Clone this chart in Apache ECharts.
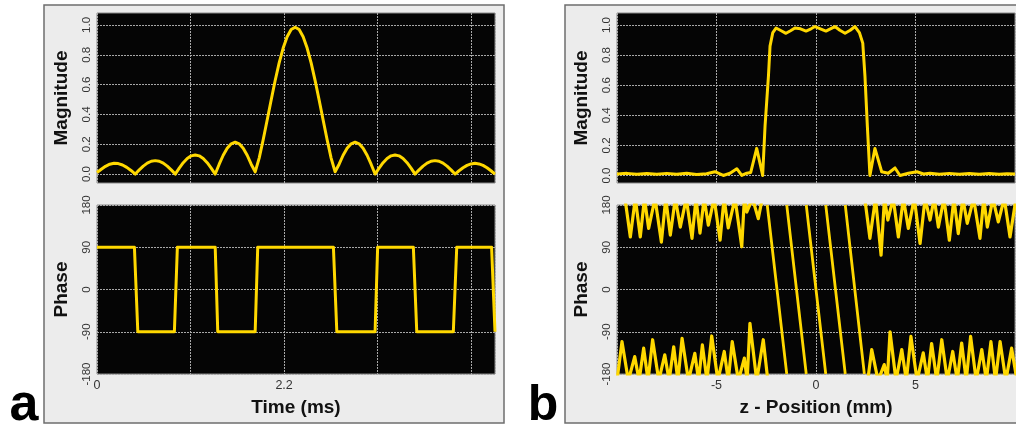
<!DOCTYPE html>
<html>
<head>
<meta charset="utf-8">
<script src="https://cdn.jsdelivr.net/npm/echarts@6/dist/echarts.min.js"></script>
<style>
html, body { margin: 0; padding: 0; background: #fff; }
#chart { width: 1016px; height: 428px; }
</style>
</head>
<body>
<div id="chart"></div>
<script>
// ---- panel a: RF pulse in time ----
const aTime = [
  0, 0.05, 0.10, 0.15, 0.20, 0.25, 0.30, 0.35, 0.40, 0.45,
  0.497, 0.544, 0.591, 0.638, 0.685, 0.732, 0.779, 0.826, 0.873, 0.92,
  0.967, 1.014, 1.061, 1.108, 1.155, 1.202, 1.249, 1.296, 1.343, 1.39,
  1.437, 1.484, 1.531, 1.578, 1.625, 1.672, 1.719, 1.766, 1.813, 1.86,
  1.907, 1.954, 2.001, 2.048, 2.095, 2.142, 2.189, 2.236, 2.283, 2.33,
  2.377, 2.424, 2.471, 2.518, 2.565, 2.612, 2.659, 2.706, 2.753, 2.80,
  2.847, 2.894, 2.941, 2.988, 3.035, 3.082, 3.129, 3.176, 3.223, 3.27,
  3.317, 3.364, 3.411, 3.458, 3.505, 3.552, 3.599, 3.646, 3.693, 3.74,
  3.787, 3.834, 3.881, 3.928, 3.975, 4.022, 4.069, 4.116, 4.163, 4.21,
  4.257, 4.304, 4.351, 4.398, 4.445, 4.492, 4.539, 4.586, 4.633, 4.68
];
const aMag = [
  0.010, 0.032, 0.052, 0.066, 0.072, 0.070, 0.061, 0.045, 0.024, 0.0,
  0.028, 0.053, 0.073, 0.086, 0.090, 0.086, 0.073, 0.053, 0.028, 0.0,
  0.040, 0.076, 0.104, 0.122, 0.128, 0.122, 0.104, 0.076, 0.040, 0.0,
  0.066, 0.126, 0.173, 0.203, 0.214, 0.203, 0.173, 0.126, 0.066, 0.015,
  0.107, 0.230, 0.362, 0.497, 0.627, 0.746, 0.845, 0.921, 0.969, 0.985,
  0.969, 0.921, 0.845, 0.746, 0.627, 0.497, 0.362, 0.230, 0.107, 0.015,
  0.066, 0.126, 0.173, 0.203, 0.214, 0.203, 0.173, 0.126, 0.066, 0.0,
  0.040, 0.076, 0.104, 0.122, 0.128, 0.122, 0.104, 0.076, 0.040, 0.0,
  0.028, 0.053, 0.073, 0.086, 0.090, 0.086, 0.073, 0.053, 0.028, 0.0,
  0.022, 0.042, 0.058, 0.068, 0.072, 0.068, 0.058, 0.042, 0.022, 0.0
];
const aPhaseTime = [0, 0.44, 0.48, 0.91, 0.945, 1.39, 1.42, 1.86, 1.89, 2.78, 2.82, 3.27, 3.30, 3.72, 3.76, 4.19, 4.23, 4.64, 4.68];
const aPhase = [90, 90, -90, -90, 90, 90, -90, -90, 90, 90, -90, -90, 90, 90, -90, -90, 90, 90, -90];
const aTickLabels = ['0', '2.2'];

// ---- panel b: slice profile ----
const bPos = [
  -10, -9.5, -9, -8.5, -8, -7.5, -7, -6.5, -6, -5.5,
  -5.08, -4.66, -4.32, -3.98, -3.73, -3.48, -3.28, -2.98, -2.68, -2.56,
  -2.39, -2.31, -2.17, -2.01, -1.75, -1.51, -1.28, -1.06, -0.78, -0.5,
  -0.25, -0.05, 0.22, 0.5, 0.72, 0.95, 1.2, 1.46, 1.72, 1.96,
  2.18, 2.35, 2.46, 2.58, 2.71, 2.96, 3.3, 3.63, 3.97, 4.22,
  4.64, 5.07, 5.4, 5.73, 6.2, 6.7, 7.2, 7.7, 8.2, 8.7,
  9.2, 9.6, 10
];
const bMag = [
  0.01, 0.014, 0.008, 0.013, 0.008, 0.014, 0.008, 0.015, 0.007, 0.012,
  0.025, 0.0, 0.015, 0.045, 0.0, 0.015, 0.02, 0.18, 0.0, 0.33,
  0.66, 0.86, 0.95, 0.98, 0.962, 0.945, 0.962, 0.98, 0.975, 0.96,
  0.975, 0.99, 0.975, 0.96, 0.975, 0.99, 0.965, 0.945, 0.965, 0.99,
  0.95, 0.88, 0.66, 0.33, 0.0, 0.18, 0.025, 0.015, 0.05, 0.0,
  0.015, 0.025, 0.01, 0.015, 0.008, 0.014, 0.008, 0.013, 0.008, 0.013,
  0.008, 0.012, 0.01
];
// phase noise hanging from +180 (values above 180 are clipped away)
const bTopPos = [
  -9.6, -9.33, -9.08, -8.83, -8.62, -8.41, -8.09, -7.77, -7.55, -7.32,
  -7.07, -6.82, -6.52, -6.23, -6.03, -5.83, -5.62, -5.41, -5.12, -4.82,
  -4.62, -4.41, -4.07, -3.73, -3.6, -3.48, -3.19, -2.9, -2.7,
  0,
  2.45, 2.71, 2.99, 3.27, 3.44, 3.61, 3.88, 4.14, 4.39, 4.64,
  4.94, 5.23, 5.48, 5.73, 5.94, 6.15, 6.43, 6.7, 6.93, 7.15,
  7.38, 7.6, 7.92, 8.24, 8.43, 8.61, 8.89, 9.16, 9.46, 9.75, 10.05
];
const bTopPhase = [
  194, 112, 194, 112, 194, 130, 194, 101, 194, 116,
  194, 133, 194, 109, 194, 120, 194, 137, 194, 105,
  194, 131, 194, 91, 194, 165, 194, 151, 194,
  null,
  194, 109, 194, 73, 194, 148, 194, 112, 194, 130,
  194, 98, 194, 148, 194, 133, 194, 105, 194, 119,
  194, 141, 194, 109, 194, 133, 194, 144, 194, 112, 194
];
// phase noise rising from -180
const bBotPos = [
  -10, -9.75, -9.43, -9.11, -8.89, -8.66, -8.44, -8.21, -7.9, -7.6,
  -7.38, -7.15, -6.94, -6.73, -6.41, -6.09, -5.9, -5.71, -5.48, -5.24,
  -4.93, -4.61, -4.41, -4.21, -3.9, -3.6, -3.46, -3.32, -2.98, -2.65, -2.42,
  0,
  2.6, 2.8, 3.12, 3.43, 3.58, 3.72, 4.02, 4.31, 4.54, 4.77,
  5.08, 5.39, 5.6, 5.81, 6.07, 6.32, 6.6, 6.87, 7.1, 7.32,
  7.55, 7.77, 8.05, 8.33, 8.56, 8.79, 9.02, 9.25, 9.54, 9.83, 10.1
];
const bBotPhase = [
  -194, -111, -194, -143, -194, -125, -194, -107, -194, -139,
  -194, -122, -194, -104, -194, -136, -194, -118, -194, -99,
  -194, -132, -194, -111, -194, -146, -194, -72, -194, -107, -194,
  null,
  -194, -128, -194, -160, -194, -90, -194, -128, -194, -100,
  -194, -135, -194, -115, -194, -107, -194, -132, -194, -114,
  -194, -100, -194, -128, -194, -111, -194, -111, -194, -125, -194
];
// linear phase ramps inside the slice, wrapping 180 -> -180
const bRampStart = [-2.45, -1.47, -0.49, 0.49, 1.47];
const bRampEnd = [-1.47, -0.49, 0.49, 1.47, 2.43];

const magTicks = [0, 0.2, 0.4, 0.6, 0.8, 1.0];

const FONT = '"Liberation Sans", Arial, sans-serif';
const YELLOW = '#ffd800';

function pairs(xs, ys) {
  return xs.map((x, i) => [x, ys[i] == null ? '-' : ys[i]]);
}
const rampData = [];
bRampStart.forEach((s, i) => {
  rampData.push([s, 180], [bRampEnd[i], -180], [bRampEnd[i], '-']);
});

const dotted = { show: true, lineStyle: { color: '#a8a8a8', width: 1, type: [2, 1] } };
const gridBox = { show: true, backgroundColor: '#050505', borderColor: '#8a8a8a', borderWidth: 1, outerBoundsMode: 'none' };

function xAx(grid, min, max, interval, withLabels, name, fmt) {
  return {
    gridIndex: grid, type: 'value', min: min, max: max, interval: interval,
    axisLine: { show: false }, axisTick: { show: false },
    splitLine: dotted,
    axisLabel: withLabels ? {
      show: true, color: '#333', fontSize: 12.5, fontFamily: FONT, margin: 5,
      showMinLabel: fmt ? true : false, showMaxLabel: false,
      formatter: fmt
    } : { show: false },
    name: name || '', nameLocation: 'middle', nameGap: 24,
    nameTextStyle: { fontSize: 19, fontWeight: 'bold', color: '#111', fontFamily: FONT }
  };
}
function yMag(grid, min) {
  return {
    gridIndex: grid, type: 'value', min: min, max: 1.08,
    axisLine: { show: false },
    axisTick: { show: false, customValues: magTicks },
    splitLine: dotted,
    axisLabel: {
      customValues: magTicks, rotate: 90, color: '#333', fontSize: 11.5, fontFamily: FONT, margin: 4,
      formatter: v => v.toFixed(1)
    },
    name: 'Magnitude', nameLocation: 'middle', nameGap: 26,
    nameTextStyle: { fontSize: 19, fontWeight: 'bold', color: '#111', fontFamily: FONT }
  };
}
function yPhase(grid) {
  return {
    gridIndex: grid, type: 'value', min: -180, max: 180, interval: 90,
    axisLine: { show: false }, axisTick: { show: false },
    splitLine: dotted,
    axisLabel: { rotate: 90, color: '#333', fontSize: 11.5, fontFamily: FONT, margin: 4 },
    name: 'Phase', nameLocation: 'middle', nameGap: 26,
    nameTextStyle: { fontSize: 19, fontWeight: 'bold', color: '#111', fontFamily: FONT }
  };
}
function line(xi, data, width) {
  return {
    type: 'line', xAxisIndex: xi, yAxisIndex: xi, data: data,
    showSymbol: false, symbol: 'none', silent: true, clip: true,
    lineStyle: { color: YELLOW, width: width || 3, join: 'round' }
  };
}

const chart = echarts.init(document.getElementById('chart'));
chart.setOption({
  animation: false,
  backgroundColor: '#fff',
  textStyle: { fontFamily: FONT },
  graphic: [
    { type: 'rect', z: -10, shape: { x: 44, y: 5, width: 460, height: 418 },
      style: { fill: '#ececec', stroke: '#6e6e6e', lineWidth: 1.5 } },
    { type: 'rect', z: -10, shape: { x: 565, y: 5, width: 470, height: 418 },
      style: { fill: '#ececec', stroke: '#6e6e6e', lineWidth: 1.5 } },
    { type: 'text', z: 10, style: { text: 'a', x: 24, y: 406, font: 'bold 52px "Liberation Sans", Arial', fill: '#000', align: 'center', verticalAlign: 'middle' } },
    { type: 'text', z: 10, style: { text: 'b', x: 543, y: 406, font: 'bold 50px "Liberation Sans", Arial', fill: '#000', align: 'center', verticalAlign: 'middle' } }
  ],
  grid: [
    Object.assign({ left: 97, top: 13, width: 398, height: 170 }, gridBox),
    Object.assign({ left: 97, top: 205, width: 398, height: 169 }, gridBox),
    Object.assign({ left: 617, top: 13, width: 398, height: 170 }, gridBox),
    Object.assign({ left: 617, top: 205, width: 398, height: 169 }, gridBox)
  ],
  xAxis: [
    xAx(0, 0, 4.68, 1.1, false),
    xAx(1, 0, 4.68, 1.1, true, 'Time (ms)', v => aTickLabels.indexOf(String(v)) >= 0 ? String(v) : ''),
    xAx(2, -10, 10, 5, false),
    xAx(3, -10, 10, 5, true, 'z - Position (mm)')
  ],
  yAxis: [yMag(0, -0.06), yPhase(1), yMag(2, -0.05), yPhase(3)],
  series: [
    line(0, pairs(aTime, aMag), 3),
    line(1, pairs(aPhaseTime, aPhase), 3),
    line(2, pairs(bPos, bMag), 3),
    line(3, pairs(bTopPos, bTopPhase), 3.2),
    line(3, pairs(bBotPos, bBotPhase), 3.2),
    line(3, rampData, 2.8)
  ]
});
</script>
</body>
</html>
